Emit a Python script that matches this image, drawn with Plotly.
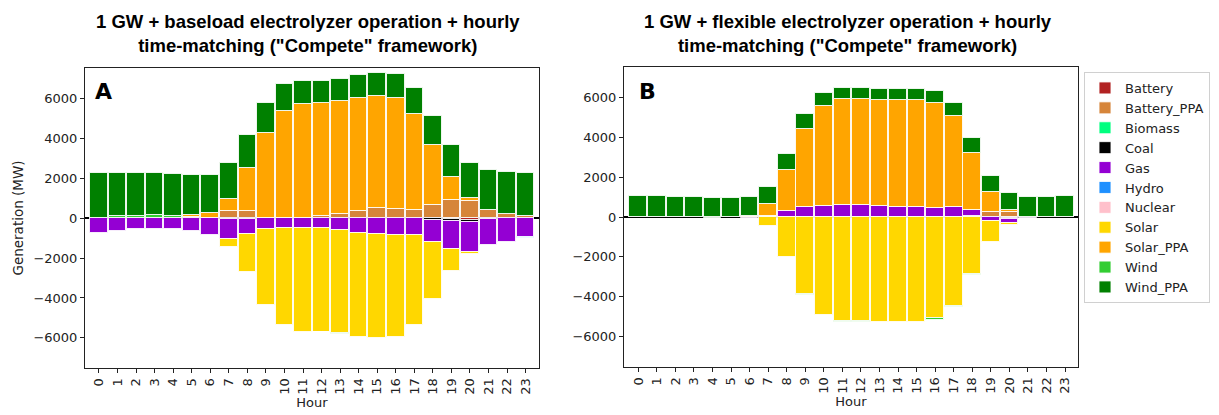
import plotly.graph_objects as go

hours = list(range(24))
hour_labels = [str(h) for h in hours]

techs = ["Battery", "Battery_PPA", "Biomass", "Coal", "Gas", "Hydro",
         "Nuclear", "Solar", "Solar_PPA", "Wind", "Wind_PPA"]
colors = {
    "Battery": "#B22222",
    "Battery_PPA": "#D6853A",
    "Biomass": "#00FF7F",
    "Coal": "#000000",
    "Gas": "#9400D3",
    "Hydro": "#1E90FF",
    "Nuclear": "#FFC0CB",
    "Solar": "#FFD700",
    "Solar_PPA": "#FFA500",
    "Wind": "#32CD32",
    "Wind_PPA": "#008000",
}

# Panel A: baseload electrolyzer operation (MW per hour)
a_battery = [0, 0, 0, 0, 0, 0, 0, 0, 0, 0, 0, 0, 0, 0, 0, 0, 0, 0, 0, -60, -70, 0, 0, 0]
a_battery_ppa = [0, 0, 0, 0, 0, 80, 0, 380, 380, 0, 0, 0, 100, 200, 380, 500, 450, 400, 650, 920, 880, 415, 200, 100]
a_biomass = [0] * 24
a_coal = [0, 0, 0, 0, 0, 0, 0, -60, -60, 0, 0, 0, 0, 0, 0, 0, 0, 0, -100, -100, -110, -40, 0, 0]
a_gas = [-750, -620, -560, -560, -560, -620, -850, -960, -740, -537, -500, -470, -470, -587, -720, -805, -855, -855,
         -1070, -1380, -1490, -1300, -1205, -940]
a_hydro = [0] * 23 + [-40]
a_nuclear = [0] * 24
a_solar = [0, 0, 0, 0, 0, 0, 0, -400, -1910, -3800, -4855, -5220, -5220, -5183, -5220, -5185, -5085, -4500,
           -2865, -1085, -115, 0, 0, 0]
a_solar_ppa = [0, 0, 0, 0, 0, 70, 250, 570, 2130, 4265, 5385, 5720, 5685, 5685, 5655, 5620, 5570, 4850, 3030,
               1150, 120, 0, 30, 0]
a_wind = [0, 100, 120, 150, 100, 0, 0, 0, 0, 0, 0, 0, -40, -40, 0, 0, 0, 0, 0, 0, 0, 0, 0, 0]
a_wind_ppa = [2250, 2150, 2130, 2100, 2100, 2000, 1900, 1840, 1690, 1505, 1330, 1185, 1120, 1120, 1170, 1170, 1220,
              1305, 1470, 1590, 1790, 2000, 2080, 2150]

# Panel B: flexible electrolyzer operation (MW per hour)
b_battery = [0] * 20 + [-50, 0, 0, 0]
b_battery_ppa = [0, 0, 0, 0, 0, 0, 0, 50, 0, 0, 0, 0, 0, 0, 0, 0, 0, 0, 50, 265, 265, 0, 0, 0]
b_biomass = [0] * 24
b_coal = [0] * 20 + [-50, 0, 0, 0]
b_gas = [0, 0, 0, 0, 0, 0, -60, 0, 300, 500, 550, 600, 600, 565, 515, 515, 435, 515, 300, -185, -215, -60, 0, 0]
b_hydro = [0] * 24
b_nuclear = [0] * 24
b_solar = [0, 0, 0, 0, 0, 0, 0, -465, -1990, -3860, -4930, -5230, -5230, -5265, -5265, -5265, -5080, -4475,
           -2870, -1065, -65, 0, 0, 0]
b_solar_ppa = [0, 0, 0, 0, 0, 0, 50, 600, 2055, 3910, 5010, 5315, 5315, 5300, 5350, 5350, 5280, 4570, 2870, 1005,
               85, 0, 0, 0]
b_wind = [0, 0, 0, 0, -40, 0, 0, 0, 0, -30, 0, -40, -30, 0, 0, 0, -80, -50, -50, 0, 0, 0, 0, 0]
b_wind_ppa = [1070, 1070, 1020, 1020, 970, 970, 970, 850, 815, 735, 640, 535, 535, 535, 535, 535, 585, 630, 740,
              765, 835, 1020, 1020, 1070]

panel_a = {"Battery": a_battery, "Battery_PPA": a_battery_ppa, "Biomass": a_biomass, "Coal": a_coal,
           "Gas": a_gas, "Hydro": a_hydro, "Nuclear": a_nuclear, "Solar": a_solar,
           "Solar_PPA": a_solar_ppa, "Wind": a_wind, "Wind_PPA": a_wind_ppa}
panel_b = {"Battery": b_battery, "Battery_PPA": b_battery_ppa, "Biomass": b_biomass, "Coal": b_coal,
           "Gas": b_gas, "Hydro": b_hydro, "Nuclear": b_nuclear, "Solar": b_solar,
           "Solar_PPA": b_solar_ppa, "Wind": b_wind, "Wind_PPA": b_wind_ppa}

W, H = 1219, 415
fig = go.Figure()

for panel, (xa, ya), show in ((panel_a, ("x", "y"), True), (panel_b, ("x2", "y2"), False)):
    for t in techs:
        fig.add_trace(go.Bar(
            x=hours, y=panel[t], name=t, xaxis=xa, yaxis=ya,
            marker=dict(color=colors[t], line=dict(color="rgba(255,255,255,0.85)", width=1)),
            width=0.95, showlegend=show, legendgroup=t,
        ))

tick_font = dict(family="DejaVu Sans", size=13, color="#222")


def px_x(p):
    return p / W


def px_y(p):
    return 1 - p / H


common_x = dict(
    tickmode="array", tickvals=hours, ticktext=hour_labels, tickangle=-90,
    ticks="outside", ticklen=4, tickcolor="#222", showline=True, linecolor="#222",
    linewidth=1, mirror=True, showgrid=False, zeroline=False, tickfont=tick_font,
    title=dict(text="Hour", font=dict(family="DejaVu Sans", size=13, color="#222"), standoff=2),
)
common_y = dict(
    tickmode="array", tickvals=[-6000, -4000, -2000, 0, 2000, 4000, 6000],
    ticktext=["\u22126000", "\u22124000", "\u22122000", "0", "2000", "4000", "6000"],
    ticks="outside", ticklen=4, tickcolor="#222", showline=True, linecolor="#222",
    linewidth=1, mirror=True, showgrid=False, zeroline=True, zerolinecolor="#000",
    zerolinewidth=2, tickfont=tick_font, layer="above traces",
)

fig.update_layout(
    width=W, height=H, barmode="relative", bargap=0,
    plot_bgcolor="white", paper_bgcolor="white",
    margin=dict(l=0, r=0, t=0, b=0),
    xaxis=dict(domain=[px_x(85), px_x(539)], range=[-0.75, 23.72], anchor="y", **common_x),
    yaxis=dict(domain=[px_y(368), px_y(68)], range=[-7515, 7540], anchor="x",
               title=dict(text="Generation (MW)", font=dict(family="DejaVu Sans", size=13.5, color="#222"),
                          standoff=6), **common_y),
    xaxis2=dict(domain=[px_x(624), px_x(1078)], range=[-0.77, 23.7], anchor="y2", **common_x),
    yaxis2=dict(domain=[px_y(367), px_y(67)], range=[-7520, 7520], anchor="x2", **common_y),
    legend=dict(x=px_x(1084), y=px_y(72), xanchor="left", yanchor="top",
                bordercolor="#d0d0d0", borderwidth=1, bgcolor="white",
                font=dict(family="DejaVu Sans", size=13, color="#222"),
                tracegroupgap=0, itemwidth=30),
    showlegend=True,
)

title_font = dict(family="Liberation Sans, Arial, sans-serif", size=18.5, color="#000")
titles = [
    (px_x(308), "<b>1 GW + baseload electrolyzer operation + hourly</b><br><b>time-matching (\"Compete\" framework)</b>"),
    (px_x(848), "<b>1 GW + flexible electrolyzer operation + hourly</b><br><b>time-matching (\"Compete\" framework)</b>"),
]
for xc, txt in titles:
    fig.add_annotation(x=xc, y=px_y(33), xref="paper", yref="paper", text=txt, showarrow=False,
                       font=title_font, xanchor="center", yanchor="middle", align="center")

for xc, letter in ((103, "A"), (647, "B")):
    fig.add_annotation(x=px_x(xc), y=px_y(91), xref="paper", yref="paper", text=f"<b>{letter}</b>",
                       showarrow=False, font=dict(family="DejaVu Sans", size=22, color="#000"),
                       xanchor="center", yanchor="middle")

fig.write_html("out.html")
